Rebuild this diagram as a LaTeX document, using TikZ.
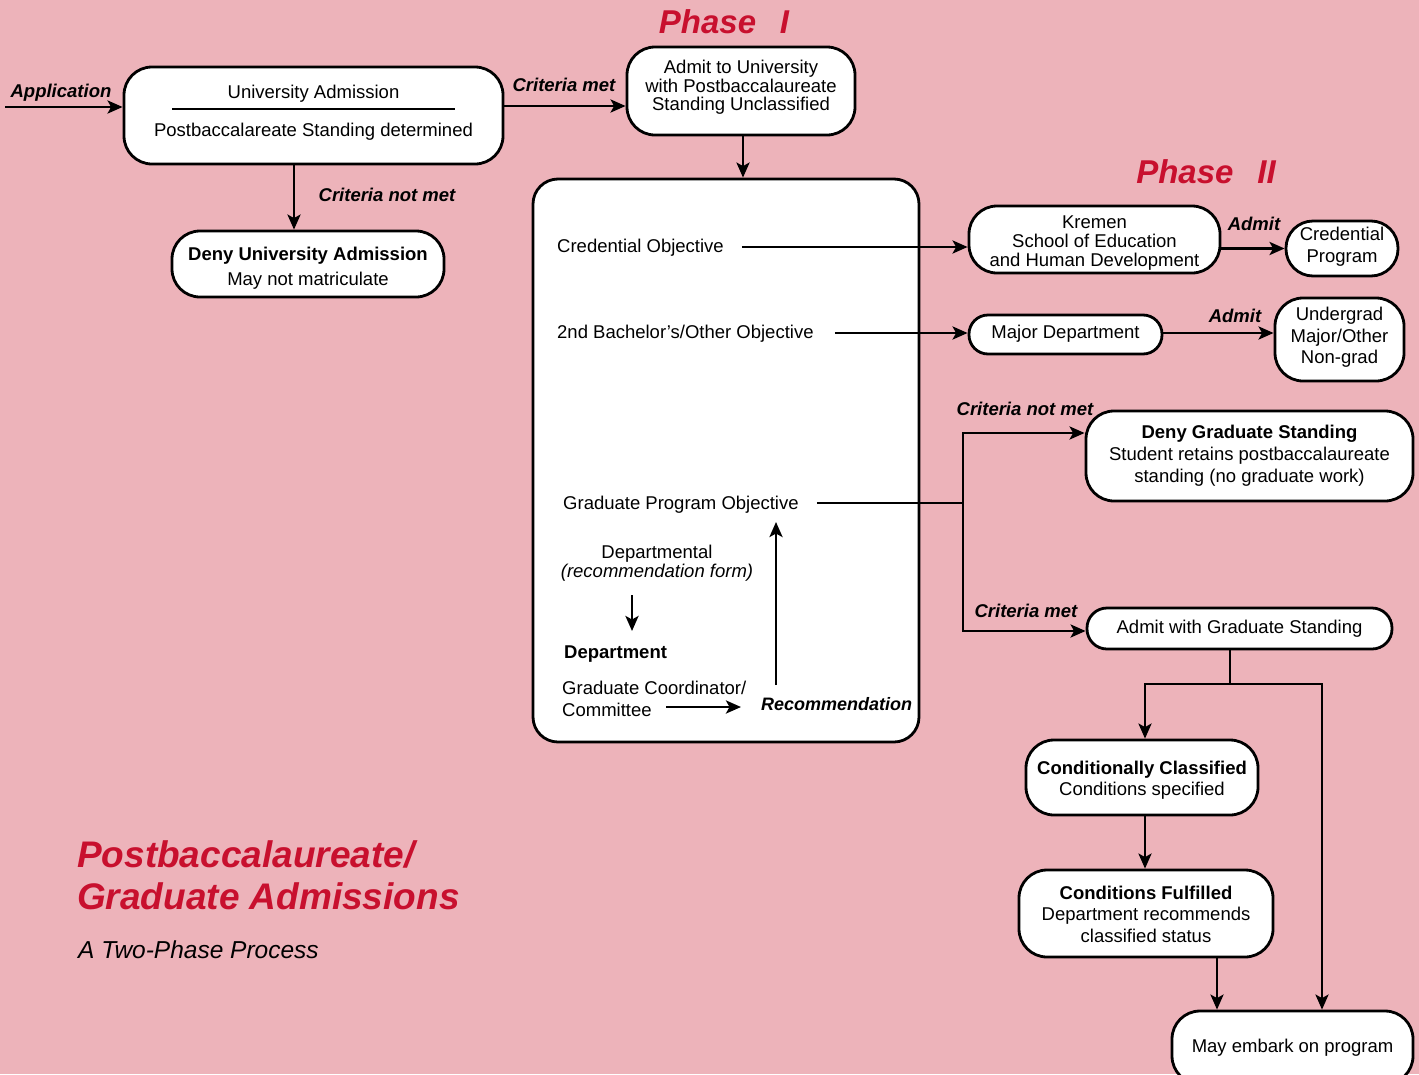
\documentclass[tikz,border=0pt]{standalone}
\usepackage{fontspec}
\setmainfont{Liberation Sans}
\usetikzlibrary{arrows.meta,calc}
\definecolor{bgpink}{RGB}{237,179,186}
\definecolor{tred}{RGB}{200,16,46}
\begin{document}
\begin{tikzpicture}[x=1pt,y=-1pt,
  box/.style={draw=black, line width=2.8pt, fill=white, rounded corners=28pt, inner sep=0pt, align=center, font=\fontsize{18.5}{19}\selectfont},
  txt/.style={inner sep=0pt, font=\fontsize{18.5}{19}\selectfont},
  lbl/.style={inner sep=0pt, font=\fontsize{18.5}{20}\selectfont\bfseries\itshape},
  arr/.style={line width=2.8pt, -{Stealth[length=15pt,width=13pt,inset=3.5pt]}},
  ln/.style={line width=2.8pt},
  phase/.style={inner sep=0pt, text=tred, font=\fontsize{33}{35}\selectfont\bfseries\itshape}]
\fill[bgpink] (0,0) rectangle (1419,1074);
\useasboundingbox (0,0) rectangle (1419,1074);

% titles
\node[phase] (ph1) at (724,22) {Phase\ \ \,I};
\node[phase] (ph2) at (1206,172) {Phase\ \ \,II};

% boxes
\node[box, minimum width=379pt, minimum height=97pt] (ua) at (313.5,115.5)
  {University Admission\\[0pt]\rule[7.3pt]{283pt}{2.4pt}\\Postbaccalareate Standing determined\rule[-10pt]{0pt}{10pt}};
\node[box, minimum width=228pt, minimum height=88pt, font=\fontsize{18.5}{18.5}\selectfont] (admit) at (741,91)
  {\rule{0pt}{16pt}Admit to University\\with Postbaccalaureate\\Standing Unclassified\rule[-14pt]{0pt}{14pt}};
\node[box, minimum width=386pt, minimum height=563pt, rounded corners=25pt] (big) at (726,460.5) {};
\node[box, minimum width=272pt, minimum height=66pt, font=\fontsize{18.5}{25}\selectfont] (denyu) at (308,264)
  {\rule{0pt}{21pt}\textbf{Deny University Admission}\\May not matriculate};
\node[box, minimum width=251pt, minimum height=67pt] (kremen) at (1094.5,239.5)
  {\rule{0pt}{19pt}Kremen\\School of Education\\and Human Development};
\node[box, minimum width=112pt, minimum height=55pt, rounded corners=27pt, font=\fontsize{18.5}{22}\selectfont] (credp) at (1342,248.5)
  {Credential\\Program\rule[-7pt]{0pt}{7pt}};
\node[box, minimum width=193pt, minimum height=39pt, rounded corners=19pt] (major) at (1065.5,334.5)
  {Major Department\rule[-6pt]{0pt}{6pt}};
\node[box, minimum width=129pt, minimum height=83pt, font=\fontsize{18.5}{21.5}\selectfont] (ug) at (1339.5,339.5)
  {Undergrad\\Major/Other\\Non-grad\rule[-8pt]{0pt}{8pt}};
\node[box, minimum width=327pt, minimum height=90pt, font=\fontsize{18.5}{22}\selectfont] (denyg) at (1249.5,456)
  {\textbf{Deny Graduate Standing}\\Student retains postbaccalaureate\\standing (no graduate work)\rule[-4pt]{0pt}{4pt}};
\node[box, minimum width=305pt, minimum height=41pt, rounded corners=20pt] (admitg) at (1239.5,628.5)
  {Admit with Graduate Standing\rule[-4pt]{0pt}{4pt}};
\node[box, minimum width=232pt, minimum height=75pt, font=\fontsize{18.5}{21}\selectfont] (condc) at (1142,777.5)
  {\rule{0pt}{19pt}\textbf{Conditionally Classified}\\Conditions specified};
\node[box, minimum width=254pt, minimum height=87pt, font=\fontsize{18.5}{21.5}\selectfont] (condf) at (1146,913.5)
  {\rule{0pt}{15pt}\textbf{Conditions Fulfilled}\\Department recommends\\classified status};
\node[box, minimum width=241pt, minimum height=73pt] (embark) at (1292.5,1047.5)
  {May embark on program\rule[-3pt]{0pt}{3pt}};

% texts inside big box
\node[txt, anchor=west] (co) at (557,248) {Credential Objective};
\node[txt, anchor=west] (bo) at (557,334) {2nd Bachelor's/Other Objective};
\node[txt, anchor=west] (go) at (563,505) {Graduate Program Objective};
\node[txt, align=center] (dep) at (657,563) {Departmental\\\textit{(recommendation form)}};
\node[txt, anchor=west, font=\fontsize{18.5}{19}\selectfont\bfseries] (dept) at (564,654) {Department};
\node[txt, anchor=west, align=left, font=\fontsize{18.5}{22}\selectfont] (gc) at (562,699) {Graduate Coordinator/\\Committee};
\node[lbl, anchor=west, font=\fontsize{18}{20}\selectfont\bfseries\itshape] (rec) at (761,704) {Recommendation};

% labels
\node[lbl] (lapp) at (61,93) {Application};
\node[lbl] (lcm1) at (564,85) {Criteria met};
\node[lbl] (lcn1) at (387,195) {Criteria not met};
\node[lbl] (ladm1) at (1254,224) {Admit};
\node[lbl] (ladm2) at (1235,316) {Admit};
\node[lbl] (lcn2) at (1025,409) {Criteria not met};
\node[lbl] (lcm2) at (1026,611) {Criteria met};

% bottom-left title
\node[inner sep=0pt, anchor=west, align=left, text=tred, font=\fontsize{37}{42}\selectfont\bfseries\itshape] (title) at (77,875)
  {Postbaccalaureate/\\Graduate Admissions};
\node[inner sep=0pt, anchor=west, font=\fontsize{24.5}{26}\selectfont\itshape] (sub) at (78,950) {A Two-Phase Process};

% coordinates
\coordinate (appin) at (5,107);
\coordinate (split) at (963,503);
\coordinate (br) at (1230,684);
\coordinate (d1) at (632,595);
\coordinate (d2) at (632,631);
\coordinate (g1) at (666,707);
\coordinate (g2) at (741,707);
\coordinate (r1) at (776,685);
\coordinate (r2) at (776,522);

% connectors
\draw[arr] (appin) -- (appin -| ua.west);
\draw[arr] ([yshift=9.5pt]ua.east) -- ([yshift=9.5pt]ua.east -| admit.west);
\draw[arr] ([xshift=2pt]admit.south) -- ([xshift=2pt]admit.south |- big.north);
\draw[arr] ([xshift=-19.5pt]ua.south) -- ([xshift=-19.5pt]ua.south |- denyu.north);
\draw[arr] ([xshift=18pt,yshift=1pt]co.east) -- ([yshift=1pt]co.east -| kremen.west);
\draw[arr] ([xshift=21pt,yshift=1pt]bo.east) -- ([yshift=1pt]bo.east -| major.west);
\draw[arr] (kremen.east |- credp.west) -- (credp.west);
\draw[arr] ([yshift=1.5pt]major.east) -- ([yshift=1.5pt]major.east -| ug.west);
\draw[ln] ([xshift=18pt,yshift=2pt]go.east) -- (split);
\draw[arr] (split) |- ([yshift=23pt]denyg.west);
\draw[arr] (split) |- ([yshift=-2.5pt]admitg.west);
\draw[ln] ([xshift=-9.5pt]admitg.south) -- (br);
\draw[arr] (br) -| ([xshift=3pt]condc.north);
\draw[arr] (br) -| ([xshift=29.5pt]embark.north);
\draw[arr] ([xshift=3pt]condc.south) -- ([xshift=3pt]condc.south |- condf.north);
\draw[arr] ([xshift=71pt]condf.south) -- ([xshift=71pt]condf.south |- embark.north);
\draw[arr] (d1) -- (d2);
\draw[arr] (g1) -- (g2);
\draw[arr] (r1) -- (r2);
\end{tikzpicture}
\end{document}
